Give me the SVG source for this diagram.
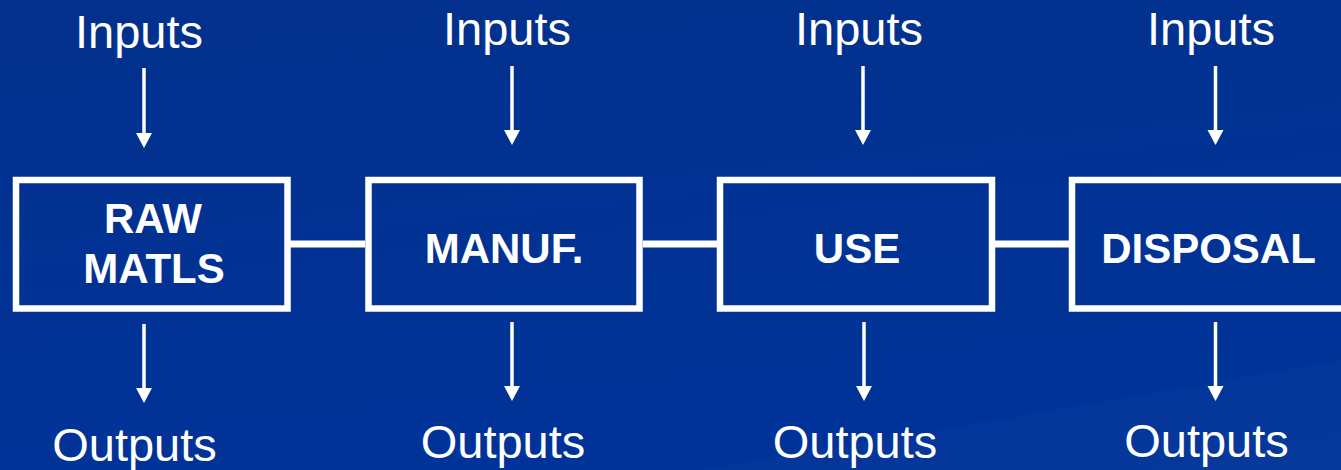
<svg xmlns="http://www.w3.org/2000/svg" width="1341" height="470" viewBox="0 0 1341 470">
  <defs>
    <linearGradient id="bg" x1="0" y1="0" x2="0.3" y2="1">
      <stop offset="0" stop-color="#03308c"/>
      <stop offset="1" stop-color="#003399"/>
    </linearGradient>
    <linearGradient id="swoosh" x1="0" y1="0" x2="1" y2="1">
      <stop offset="0" stop-color="#ffffff" stop-opacity="0"/>
      <stop offset="1" stop-color="#ffffff" stop-opacity="0.03"/>
    </linearGradient>
    <style>
      .box { fill: none; stroke: #ffffff; stroke-width: 6.5; }
      .lbl { font-family: "Liberation Sans", Arial, sans-serif; font-weight: bold; font-size: 42px; fill: #ffffff; text-anchor: middle; }
      .io { font-family: "Liberation Sans", Arial, sans-serif; font-size: 47px; fill: #ffffff; text-anchor: middle; }
      .link { stroke: #ffffff; stroke-width: 7; fill: none; }
      .arr { stroke: #ffffff; stroke-width: 3.5; fill: none; }
      .ah { fill: #ffffff; }
    </style>
  </defs>
  <rect x="0" y="0" width="1341" height="470" fill="url(#bg)"/>
  <path d="M700,470 Q1000,420 1341,360 L1341,470 Z" fill="url(#swoosh)"/>

  <g id="connectors">
    <line class="link" x1="290" y1="244" x2="365" y2="244"/>
    <line class="link" x1="643" y1="244" x2="717" y2="244"/>
    <line class="link" x1="995" y1="244" x2="1069" y2="244"/>
    <line class="arr" x1="144" y1="68" x2="144" y2="134"/>
    <path class="ah" d="M136,133 L152,133 L144,148 Z"/>
    <line class="arr" x1="144" y1="324" x2="144" y2="389"/>
    <path class="ah" d="M136,388 L152,388 L144,403 Z"/>
    <line class="arr" x1="512" y1="66" x2="512" y2="131"/>
    <path class="ah" d="M504,130 L520,130 L512,145 Z"/>
    <line class="arr" x1="512" y1="322" x2="512" y2="387"/>
    <path class="ah" d="M504,386 L520,386 L512,401 Z"/>
    <line class="arr" x1="863" y1="66" x2="863" y2="131"/>
    <path class="ah" d="M855,130 L871,130 L863,145 Z"/>
    <line class="arr" x1="864" y1="322" x2="864" y2="387"/>
    <path class="ah" d="M856,386 L872,386 L864,401 Z"/>
    <line class="arr" x1="1215.5" y1="66" x2="1215.5" y2="131"/>
    <path class="ah" d="M1207.5,130 L1223.5,130 L1215.5,145 Z"/>
    <line class="arr" x1="1215.5" y1="322" x2="1215.5" y2="387"/>
    <path class="ah" d="M1207.5,386 L1223.5,386 L1215.5,401 Z"/>
  </g>

  <g id="raw-matls">
    <rect class="box" x="16" y="180" width="271.5" height="128.5"/>
    <text class="lbl" x="153" y="233">RAW</text>
    <text class="lbl" x="154" y="283">MATLS</text>
  </g>
  <g id="manuf">
    <rect class="box" x="368.5" y="180" width="271" height="128.5"/>
    <text class="lbl" x="504" y="263">MANUF.</text>
  </g>
  <g id="use">
    <rect class="box" x="720" y="180" width="272" height="128.5"/>
    <text class="lbl" x="857" y="263">USE</text>
  </g>
  <g id="disposal">
    <rect class="box" x="1072" y="180" width="280" height="128.5"/>
    <text class="lbl" x="1208.5" y="263">DISPOSAL</text>
  </g>

  <g id="inputs">
    <text class="io" x="139" y="48">Inputs</text>
    <text class="io" x="507" y="45">Inputs</text>
    <text class="io" x="859" y="45">Inputs</text>
    <text class="io" x="1211" y="45">Inputs</text>
  </g>
  <g id="outputs">
    <text class="io" x="134.5" y="461">Outputs</text>
    <text class="io" x="503" y="458">Outputs</text>
    <text class="io" x="855" y="458">Outputs</text>
    <text class="io" x="1206.5" y="457">Outputs</text>
  </g>
</svg>
